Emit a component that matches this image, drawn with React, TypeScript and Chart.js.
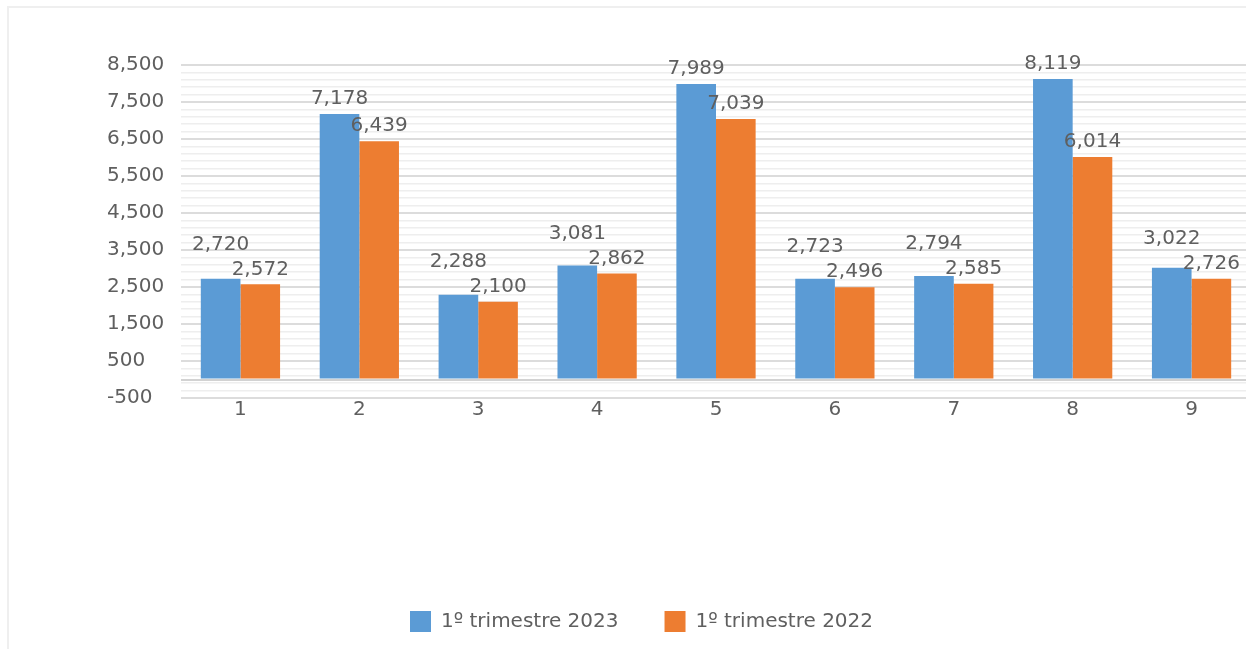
import React, { useEffect, useRef } from "react";
import { Chart, registerables } from "chart.js";

Chart.register(...registerables);

const categories = ["1", "2", "3", "4", "5", "6", "7", "8", "9"];
const series2023 = [2720, 7178, 2288, 3081, 7989, 2723, 2794, 8119, 3022];
const series2022 = [2572, 6439, 2100, 2862, 7039, 2496, 2585, 6014, 2726];
const seriesNames = ["1º trimestre 2023", "1º trimestre 2022"];
const yMin = -500;
const yMax = 8500;
const majorStep = 1000;
const minorStep = 200;

const FONT = "'DejaVu Sans', sans-serif";
const TEXT = "#5f5f5f";
const LEGEND_PAD = 46;

const fmt = (v: number) => v.toLocaleString("en-US");

export default function App() {
  const ref = useRef<HTMLCanvasElement | null>(null);

  useEffect(() => {
    document.body.style.margin = "0";
    const canvas = ref.current;
    if (!canvas) return;

    const frame = {
      id: "frame",
      beforeDraw(chart: any) {
        const ctx = chart.ctx;
        ctx.save();
        ctx.strokeStyle = "#efefef";
        ctx.lineWidth = 2;
        ctx.strokeRect(8, 7, 1400, 800);
        ctx.restore();
      },
    };

    const legendShift = {
      id: "legendShift",
      afterLayout(chart: any) {
        const lg = chart.legend;
        if (!lg) return;
        const d = 410 - LEGEND_PAD - lg.left;
        lg.left += d;
        lg.right += d;
      },
    };

    const valueLabels = {
      id: "valueLabels",
      afterDatasetsDraw(chart: any) {
        const ctx = chart.ctx;
        const m0 = chart.getDatasetMeta(0);
        const m1 = chart.getDatasetMeta(1);
        ctx.save();
        ctx.font = `20px ${FONT}`;
        ctx.fillStyle = TEXT;
        ctx.textAlign = "center";
        ctx.textBaseline = "middle";
        for (let i = 0; i < categories.length; i++) {
          const b = m0.data[i];
          const o = m1.data[i];
          const oy = o.y - 15;
          let by = b.y - 15;
          if (Math.abs(by - oy) < 24) by = Math.min(by, oy - 25);
          ctx.fillText(fmt(series2023[i]), b.x, by);
          ctx.fillText(fmt(series2022[i]), o.x, oy);
        }
        ctx.restore();
      },
    };

    const tickValues: number[] = [];
    for (let v = yMin; v <= yMax; v += minorStep) tickValues.push(v);
    if (!tickValues.includes(0)) tickValues.push(0);
    tickValues.sort((a, b) => a - b);

    const isMajor = (v: number) => (v - yMin) % majorStep === 0;

    const chart = new Chart(canvas, {
      type: "bar",
      data: {
        labels: categories,
        datasets: [
          {
            label: seriesNames[0],
            data: series2023,
            backgroundColor: "#5B9BD5",
            borderWidth: 0,
            categoryPercentage: 2 / 3,
            barPercentage: 1,
          },
          {
            label: seriesNames[1],
            data: series2022,
            backgroundColor: "#ED7D31",
            borderWidth: 0,
            categoryPercentage: 2 / 3,
            barPercentage: 1,
          },
        ],
      },
      options: {
        responsive: false,
        animation: false,
        layout: { padding: { top: 65, left: 107, right: 1, bottom: 7 } },
        plugins: {
          tooltip: { enabled: false },
          title: { display: false },
          legend: {
            position: "bottom",
            align: "start",
            labels: {
              boxWidth: 21,
              boxHeight: 21,
              padding: LEGEND_PAD,
              color: TEXT,
              font: { family: FONT, size: 20 },
            },
          },
        },
        scales: {
          x: {
            grid: { display: false, drawTicks: false },
            border: { display: false },
            ticks: {
              color: TEXT,
              padding: 0,
              font: { family: FONT, size: 20 },
            },
            afterFit(scale: any) {
              scale.height = 167;
            },
          },
          y: {
            min: yMin,
            max: yMax,
            border: { display: false },
            grid: {
              drawTicks: false,
              color: (c: any) => {
                const v = c.tick?.value;
                if (v === 0) return "#d2d2d2";
                if (isMajor(v)) return "#dcdcdc";
                return "#eeeeee";
              },
              lineWidth: (c: any) => {
                const v = c.tick?.value;
                if (v === 0 || isMajor(v)) return 2;
                return 1.5;
              },
            },
            afterBuildTicks(scale: any) {
              scale.ticks = tickValues.map((v) => ({ value: v }));
            },
            ticks: {
              autoSkip: false,
              crossAlign: "far",
              padding: 0,
              color: TEXT,
              font: { family: FONT, size: 20 },
              callback: (v: any) => (isMajor(Number(v)) ? fmt(Number(v)) : ""),
            },
            afterFit(scale: any) {
              scale.width = 74;
            },
          },
        },
      },
      plugins: [frame, legendShift, valueLabels],
    } as any);

    return () => chart.destroy();
  }, []);

  return (
    <div style={{ width: 1246, height: 649, overflow: "hidden", background: "#fff" }}>
      <canvas ref={ref} width={1252} height={649} style={{ display: "block" }} />
    </div>
  );
}
